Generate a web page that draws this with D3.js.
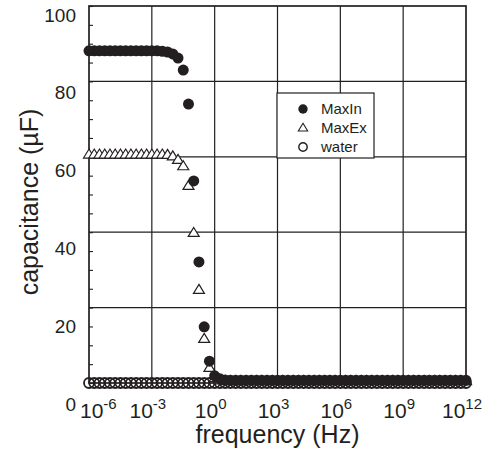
<!DOCTYPE html>
<html>
<head>
<meta charset="utf-8">
<script src="https://cdn.jsdelivr.net/npm/d3@7"></script>
<style>
  body { margin: 0; background: #fff; }
  text { font-family: "Liberation Sans", Arial, sans-serif; fill: #231f20; }
</style>
</head>
<body>
<svg width="490" height="454"></svg>
<script>
var width = 490, height = 454;
var ink = "#231f20";

// log10 of the measurement frequency (Hz), 4 points per decade
var logFreq = [
  -6, -5.75, -5.5, -5.25, -5, -4.75, -4.5, -4.25,
  -4, -3.75, -3.5, -3.25, -3, -2.75, -2.5, -2.25,
  -2, -1.75, -1.5, -1.25, -1, -0.75, -0.5, -0.25,
  0, 0.25, 0.5, 0.75, 1, 1.25, 1.5, 1.75,
  2, 2.25, 2.5, 2.75, 3, 3.25, 3.5, 3.75,
  4, 4.25, 4.5, 4.75, 5, 5.25, 5.5, 5.75,
  6, 6.25, 6.5, 6.75, 7, 7.25, 7.5, 7.75,
  8, 8.25, 8.5, 8.75, 9, 9.25, 9.5, 9.75,
  10, 10.25, 10.5, 10.75, 11, 11.25, 11.5, 11.75,
  12
];

// capacitance (uF)
var maxIn = [
  88.1, 88.1, 88.1, 88.1, 88.1, 88.1, 88.1, 88.1,
  88.1, 88.1, 88.1, 88.1, 88.1, 88.1, 88.0, 87.8,
  87.3, 86.2, 83.0, 74.0, 53.6, 32.1, 14.9, 5.8,
  1.9, 1.1, 0.8, 0.7, 0.7, 0.7, 0.7, 0.7,
  0.7, 0.7, 0.7, 0.7, 0.7, 0.7, 0.7, 0.7,
  0.7, 0.7, 0.7, 0.7, 0.7, 0.7, 0.7, 0.7,
  0.7, 0.7, 0.7, 0.7, 0.7, 0.7, 0.7, 0.7,
  0.7, 0.7, 0.7, 0.7, 0.7, 0.7, 0.7, 0.7,
  0.7, 0.7, 0.7, 0.7, 0.7, 0.7, 0.7, 0.7,
  0.7
];

var maxEx = [
  60.6, 60.6, 60.6, 60.6, 60.6, 60.6, 60.6, 60.6,
  60.6, 60.6, 60.6, 60.6, 60.6, 60.6, 60.6, 60.5,
  60.1, 59.2, 57.5, 52.3, 39.8, 24.7, 11.7, 4.0,
  1.3, 0.7, 0.5, 0.5, 0.5, 0.5, 0.5, 0.5,
  0.5, 0.5, 0.5, 0.5, 0.5, 0.5, 0.5, 0.5,
  0.5, 0.5, 0.5, 0.5, 0.5, 0.5, 0.5, 0.5,
  0.5, 0.5, 0.5, 0.5, 0.5, 0.5, 0.5, 0.5,
  0.5, 0.5, 0.5, 0.5, 0.5, 0.5, 0.5, 0.5,
  0.5, 0.5, 0.5, 0.5, 0.5, 0.5, 0.5, 0.5,
  0.5
];

var water = [
  0, 0, 0, 0, 0, 0, 0, 0,
  0, 0, 0, 0, 0, 0, 0, 0,
  0, 0, 0, 0, 0, 0, 0, 0,
  0, 0, 0, 0, 0, 0, 0, 0,
  0, 0, 0, 0, 0, 0, 0, 0,
  0, 0, 0, 0, 0, 0, 0, 0,
  0, 0, 0, 0, 0, 0, 0, 0,
  0, 0, 0, 0, 0, 0, 0, 0,
  0, 0, 0, 0, 0, 0, 0, 0,
  0
];

var xTickExp = [-6, -3, 0, 3, 6, 9, 12];
var yTicks = [0, 20, 40, 60, 80, 100];
var legendNames = ["MaxIn", "MaxEx", "water"];

var margin = {top: 6, right: 24, bottom: 71, left: 89};

var x = d3.scaleLog()
    .domain([1e-6, 1e12])
    .range([margin.left, width - margin.right]);

var y = d3.scaleLinear()
    .domain([0, 100])
    .range([height - margin.bottom, margin.top]);

// the tick labels in the source figure sit a little below their gridlines
var yLabel = d3.scaleLinear()
    .domain([0, 100])
    .range([404, 15]);

var svg = d3.select("svg");

function freq(i) { return Math.pow(10, logFreq[i]); }

// gridlines
svg.append("g")
  .selectAll("line")
  .data(xTickExp.slice(1, -1))
  .enter().append("line")
    .attr("x1", d => x(Math.pow(10, d)))
    .attr("x2", d => x(Math.pow(10, d)))
    .attr("y1", y(0))
    .attr("y2", y(100))
    .attr("stroke", ink)
    .attr("stroke-width", 1.2);

svg.append("g")
  .selectAll("line")
  .data(yTicks.slice(1, -1))
  .enter().append("line")
    .attr("x1", x(1e-6))
    .attr("x2", x(1e12))
    .attr("y1", d => y(d))
    .attr("y2", d => y(d))
    .attr("stroke", ink)
    .attr("stroke-width", 1.2);

// frame
svg.append("rect")
  .attr("x", x(1e-6))
  .attr("y", y(100))
  .attr("width", x(1e12) - x(1e-6))
  .attr("height", y(0) - y(100))
  .attr("fill", "none")
  .attr("stroke", ink)
  .attr("stroke-width", 1.7);

// minor ticks, pointing inward from the left edge
var minor = svg.append("g")
  .attr("transform", `translate(${x(1e-6)},0)`)
  .call(d3.axisRight(y).ticks(20).tickSize(4).tickFormat(""));
minor.select(".domain").remove();
minor.selectAll("line").attr("stroke", ink).attr("stroke-width", 1.1);

// y tick labels
var yAxis = svg.append("g")
  .attr("transform", "translate(76,0)")
  .call(d3.axisLeft(yLabel).tickValues(yTicks).tickSize(0).tickPadding(0));
yAxis.select(".domain").remove();
yAxis.selectAll("text")
  .attr("fill", ink)
  .style("font-family", '"Liberation Sans", Arial, sans-serif')
  .style("font-size", "19px");

// x tick labels as powers of ten
var xLab = svg.append("g")
  .selectAll("text")
  .data(xTickExp)
  .enter().append("text")
    .attr("x", (d, i) => i === 0 ? x(Math.pow(10, d)) - 9 : x(Math.pow(10, d)) - 4)
    .attr("y", 418)
    .attr("text-anchor", (d, i) => i === 0 ? "start" : "middle");
xLab.append("tspan")
  .style("font-size", "21px")
  .text("10");
xLab.append("tspan")
  .attr("dy", -9)
  .style("font-size", "15px")
  .text(d => d);

// axis titles
svg.append("text")
  .attr("x", (x(1e-6) + x(1e12)) / 2)
  .attr("y", 443)
  .attr("text-anchor", "middle")
  .style("font-size", "25px")
  .text("frequency (Hz)");

svg.append("text")
  .attr("transform", "translate(38,202) rotate(-90)")
  .attr("text-anchor", "middle")
  .style("font-size", "25px")
  .text("capacitance (\u00b5F)");

// legend
var triangle = "M0,-5.5L5.5,3.5L-5.5,3.5Z";

svg.append("rect")
  .attr("x", 277)
  .attr("y", 93)
  .attr("width", 97)
  .attr("height", 65)
  .attr("fill", "#fff")
  .attr("stroke", ink)
  .attr("stroke-width", 1.2);

var legend = svg.append("g")
  .selectAll("g")
  .data(legendNames)
  .enter().append("g")
    .attr("transform", (d, i) => `translate(303,${109 + i * 19})`);

legend.each(function(d, i) {
  var g = d3.select(this);
  if (i === 0) {
    g.append("circle").attr("r", 4.7).attr("fill", ink);
  } else if (i === 1) {
    g.append("path").attr("d", triangle).attr("transform", "scale(0.85)")
      .attr("fill", "#fff").attr("stroke", ink).attr("stroke-width", 1.3);
  } else {
    g.append("circle").attr("r", 4.2).attr("fill", "none")
      .attr("stroke", ink).attr("stroke-width", 1.4);
  }
});

legend.append("text")
  .attr("x", 18)
  .attr("y", 5)
  .style("font-size", "15px")
  .text(d => d);

// data: water, then MaxEx, then MaxIn on top
svg.append("g")
  .selectAll("circle")
  .data(water)
  .enter().append("circle")
    .attr("cx", (d, i) => x(freq(i)))
    .attr("cy", d => y(d))
    .attr("r", 5)
    .attr("fill", "none")
    .attr("stroke", ink)
    .attr("stroke-width", 1.8);

svg.append("g")
  .selectAll("path")
  .data(maxEx)
  .enter().append("path")
    .attr("d", triangle)
    .attr("transform", (d, i) => `translate(${x(freq(i))},${y(d)})`)
    .attr("fill", "#fff")
    .attr("stroke", ink)
    .attr("stroke-width", 1.2);

svg.append("g")
  .selectAll("circle")
  .data(maxIn)
  .enter().append("circle")
    .attr("cx", (d, i) => x(freq(i)))
    .attr("cy", d => y(d))
    .attr("r", 5.5)
    .attr("fill", ink);
</script>
</body>
</html>
